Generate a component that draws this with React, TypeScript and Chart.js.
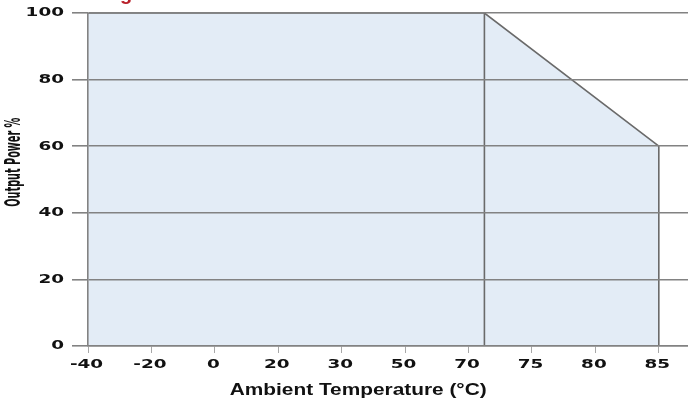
import React, { useEffect, useRef } from 'react';
import { Chart, registerables } from 'chart.js';

Chart.register(...registerables);

// ---- data ----
const xTickLabels = ['-40', '-20', '0', '20', '30', '50', '70', '75', '80', '85'];
const xTickTemps = [-40, -20, 0, 20, 30, 50, 70, 75, 80, 85];
const yTickValues = [0, 20, 40, 60, 80, 100];
const curveTemps = [-40, 71.25, 85, 85];
const curvePower = [100, 100, 60, 0];
const deratingTemp = 71.25;
const deratingPower = [0, 100];
const xTitle = 'Ambient Temperature (°C)';
const yTitle = 'Output Power %';
const captionText = 'Derating';

// map a temperature onto the evenly spaced (categorical-looking) axis
function tempToPos(t: number): number {
  for (let i = 0; i < xTickTemps.length - 1; i++) {
    const a = xTickTemps[i];
    const b = xTickTemps[i + 1];
    if (t <= b) return i + (t - a) / (b - a);
  }
  return xTickTemps.length - 1;
}

const TEXT_COLOR = '#111111';
const LINE_COLOR = '#6a6a6a';
const GRID_COLOR = '#828282';
const FILL_COLOR = '#e3ecf6';

const textPlugin = {
  id: 'customText',
  afterDraw(chart: any) {
    const ctx = chart.ctx as CanvasRenderingContext2D;
    const xs = chart.scales.x;
    const ys = chart.scales.y;
    ctx.save();
    ctx.fillStyle = TEXT_COLOR;

    // tick labels (wide bold face)
    ctx.font = 'bold 11.5px "DejaVu Sans", sans-serif';
    const sx = 1.6;
    ctx.textBaseline = 'middle';
    yTickValues.forEach((v) => {
      const y = ys.getPixelForValue(v);
      ctx.save();
      ctx.translate(64, y + 0.5);
      ctx.scale(sx, 1);
      ctx.textAlign = 'right';
      ctx.fillText(String(v), 0, 0);
      ctx.restore();
    });
    xTickLabels.forEach((lab, i) => {
      const x = xs.getPixelForValue(i) - 1.5;
      ctx.save();
      ctx.translate(x, 365.5);
      ctx.scale(sx, 1);
      ctx.textAlign = 'center';
      ctx.fillText(lab, 0, 0);
      ctx.restore();
    });

    // x axis title
    ctx.font = 'bold 16.5px "Liberation Sans", Arial, sans-serif';
    const wx = ctx.measureText(xTitle).width;
    ctx.save();
    ctx.translate(xs.getPixelForValue(4.26), 395);
    ctx.scale(257 / wx, 1);
    ctx.textAlign = 'center';
    ctx.textBaseline = 'alphabetic';
    ctx.fillText(xTitle, 0, 0);
    ctx.restore();

    // y axis title
    ctx.font = 'bold 21px "Liberation Sans Narrow", "DejaVu Sans Condensed", sans-serif';
    const wy = ctx.measureText(yTitle).width;
    ctx.save();
    ctx.translate(19.5, ys.getPixelForValue(55.2));
    ctx.rotate(-Math.PI / 2);
    ctx.scale(89 / wy, 1);
    ctx.textAlign = 'center';
    ctx.textBaseline = 'alphabetic';
    ctx.fillText(yTitle, 0, 0);
    ctx.restore();

    ctx.restore();
  },
};

export default function App() {
  const canvasRef = useRef<HTMLCanvasElement | null>(null);

  useEffect(() => {
    const canvas = canvasRef.current;
    if (!canvas) return;
    const curve = curveTemps.map((t, i) => ({ x: tempToPos(t), y: curvePower[i] }));
    const derating = deratingPower.map((p) => ({ x: tempToPos(deratingTemp), y: p }));

    const chart = new Chart(canvas, {
      type: 'line',
      data: {
        datasets: [
          {
            // derating start line (drawn on top of the fill)
            data: derating,
            borderColor: LINE_COLOR,
            borderWidth: 1.6,
            fill: false,
            pointRadius: 0,
            tension: 0,
            order: 0,
          },
          {
            data: curve,
            borderColor: LINE_COLOR,
            borderWidth: 1.6,
            backgroundColor: FILL_COLOR,
            fill: 'origin',
            pointRadius: 0,
            tension: 0,
            order: 1,
          },
        ],
      },
      options: {
        animation: false,
        responsive: false,
        maintainAspectRatio: false,
        devicePixelRatio: 1,
        layout: { padding: { top: 13, left: 0, right: 0, bottom: 0 } },
        plugins: {
          legend: { display: false },
          tooltip: { enabled: false },
          title: { display: false },
        },
        scales: {
          x: {
            type: 'linear',
            min: 0,
            max: 9.46,
            ticks: { display: false, stepSize: 1, includeBounds: false },
            grid: {
              z: 1,
              drawOnChartArea: false,
              drawTicks: true,
              tickLength: 7,
              color: '#a8a8a8',
              lineWidth: 1,
            },
            border: { display: true, color: GRID_COLOR, width: 1.6, z: 1 },
            afterFit: (s: any) => {
              s.height = 54;
            },
          },
          y: {
            min: 0,
            max: 100,
            ticks: { display: false, stepSize: 20 },
            grid: { z: 1, color: GRID_COLOR, lineWidth: 1.6, tickLength: 16, drawTicks: true },
            border: { display: true, color: GRID_COLOR, width: 1.6, z: 1 },
            afterFit: (s: any) => {
              s.width = 88;
            },
          },
        },
      } as any,
      plugins: [textPlugin],
    });
    return () => chart.destroy();
  }, []);

  return (
    <div
      style={{
        position: 'absolute',
        left: 0,
        top: 0,
        width: 688,
        height: 400,
        overflow: 'hidden',
        background: '#ffffff',
      }}
    >
      <div
        style={{
          position: 'absolute',
          left: 51,
          top: -18,
          font: 'bold 20px "Liberation Sans", Arial, sans-serif',
          color: '#b8202a',
          lineHeight: '23px',
          whiteSpace: 'nowrap',
        }}
      >
        {captionText}
      </div>
      <canvas ref={canvasRef} width={688} height={400} style={{ display: 'block' }} />
    </div>
  );
}
